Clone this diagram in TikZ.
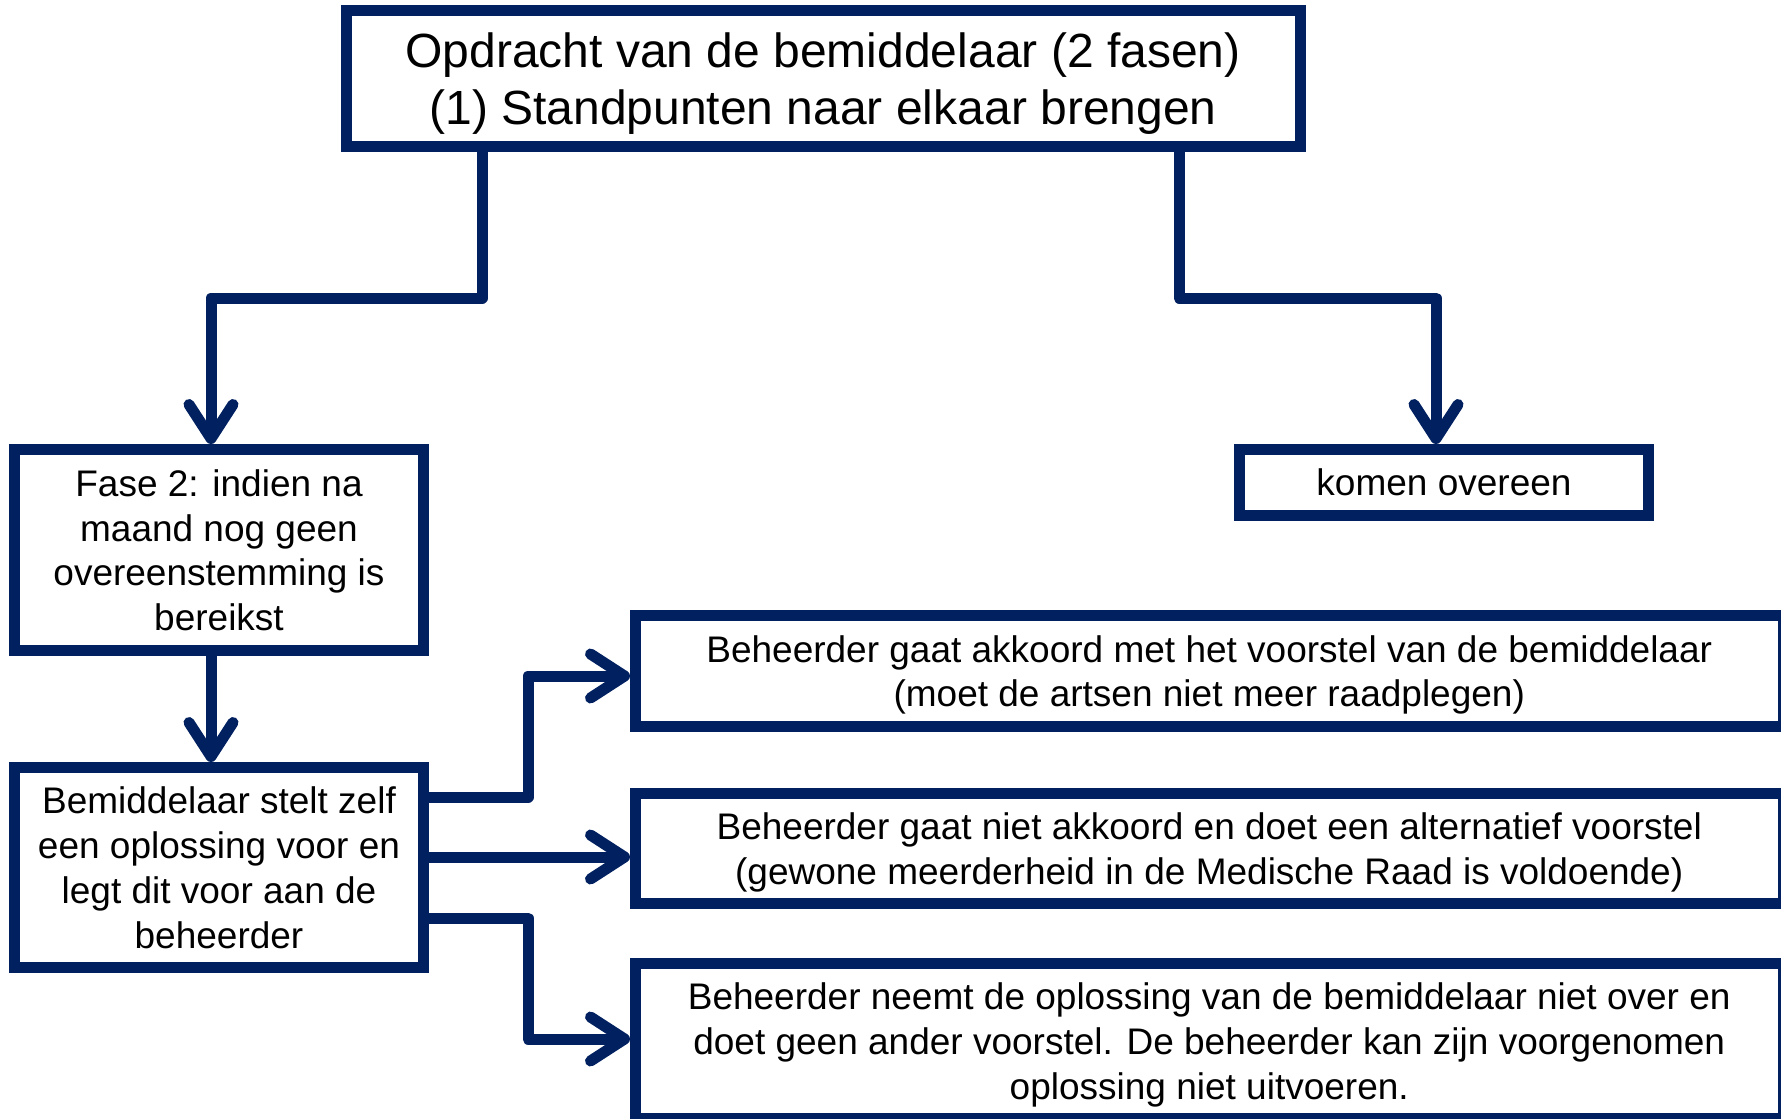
\documentclass[tikz,border=0pt]{standalone}
\usepackage{fontspec}
\setmainfont{Liberation Sans}
\usepackage{xcolor}
\definecolor{mediatorBlue}{HTML}{002060}
\usetikzlibrary{arrows.meta,calc}

\begin{document}
\begin{tikzpicture}[x=0.5pt, y=-0.5pt,
    box/.style={draw=mediatorBlue, line width=5.5pt, fill=white, inner sep=0pt, align=center,
        text depth=0pt, font=\fontsize{18.5}{22.4}\selectfont},
    link/.style={draw=mediatorBlue, line width=5.5pt, line join=round,
        -{Straight Barb[round, length=17pt, width=22pt]}},
    ]
    \useasboundingbox (0,0) rectangle (1781,1118);

    % --- Top: assignment of the mediator ---
    \node[box, minimum width=477pt, minimum height=68pt, font=\fontsize{24}{28.5}\selectfont] (opdracht) at (823,79)
        {Opdracht van de bemiddelaar (2 fasen)\\(1) Standpunten naar elkaar brengen};

    % --- Left branch: phase 2 ---
    \node[box, minimum width=204.5pt, minimum height=100.5pt] (fase) at (219,550)
        {Fase 2: indien na\\maand nog geen\\overeenstemming is\\bereikst};
    \node[box, minimum width=204.5pt, minimum height=100pt] (zelf) at (219,867.5)
        {Bemiddelaar stelt zelf\\een oplossing voor en\\legt dit voor aan de\\beheerder};

    % --- Right branch: agreement ---
    \node[box, minimum width=204.5pt, minimum height=33pt] (overeen) at (1444,482.5) {komen overeen};

    % --- Outcomes for the manager ---
    \node[box, minimum width=573.75pt, minimum height=55.5pt] (akkoord) at (1209.25,671)
        {Beheerder gaat akkoord met het voorstel van de bemiddelaar\\(moet de artsen niet meer raadplegen)};
    \node[box, minimum width=573.75pt, minimum height=55pt] (alternatief) at (1209.25,848.5)
        {Beheerder gaat niet akkoord en doet een alternatief voorstel\\(gewone meerderheid in de Medische Raad is voldoende)};
    \node[box, minimum width=573.75pt, minimum height=77.5pt] (geen) at (1209.25,1041)
        {Beheerder neemt de oplossing van de bemiddelaar niet over en\\doet geen ander voorstel. De beheerder kan zijn voorgenomen\\oplossing niet uitvoeren.};

    % connectors
    \coordinate (splitL) at (211,298);
    \coordinate (splitR) at (1436,298);
    \draw[link] ([xshift=-170.5pt]opdracht.south) |- (splitL) -- (splitL |- fase.north);
    \draw[link] ([xshift=178pt]opdracht.south) |- (splitR) -- (splitR |- overeen.north);
    \draw[link] ([xshift=-4pt]fase.south) -- ([xshift=-4pt]zelf.north);

    \draw[link] ([yshift=35.25pt]zelf.east) -| (528,676) -- ([yshift=-2.5pt]akkoord.west);
    \draw[link] ([yshift=5.25pt]zelf.east) -- ([yshift=-4.25pt]alternatief.west);
    \draw[link] ([yshift=-25.25pt]zelf.east) -| (528,1039) -- ([yshift=1pt]geen.west);
\end{tikzpicture}
\end{document}
